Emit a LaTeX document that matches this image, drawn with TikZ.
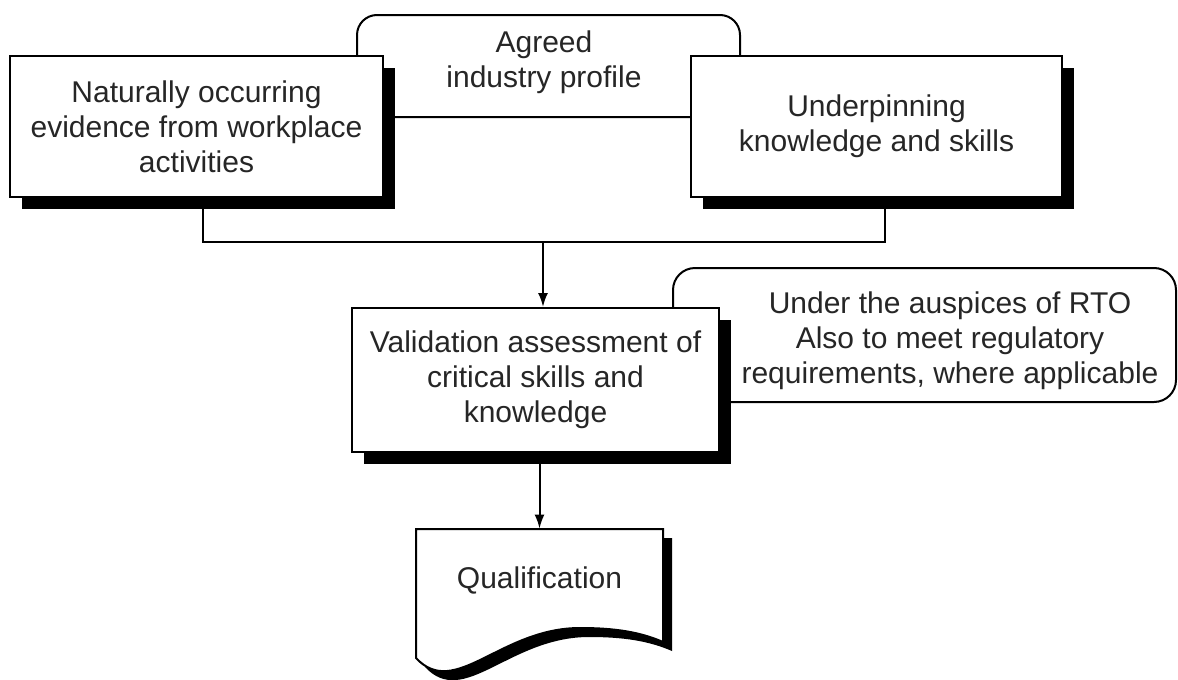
\documentclass[tikz,border=0pt]{standalone}
\usepackage{fontspec}
\setmainfont{Liberation Sans}
\usetikzlibrary{arrows.meta,shadows}

\tikzset{
  txt/.style={font=\fontsize{15}{17.5}\selectfont, align=center, text=black!85},
  box/.style={txt, draw, fill=white, line width=1pt,
    drop shadow={shadow xshift=6pt, shadow yshift=-6pt, fill=black, opacity=1}},
  frame/.style={draw, fill=white, line width=1pt, rounded corners=10pt},
  flow/.style={line width=1pt, -{Latex[length=7pt,width=5pt]}}
}

\begin{document}
\begin{tikzpicture}[x=0.5pt,y=-0.5pt]
        \useasboundingbox (0,0) rectangle (1178,680);

        % top profile frame, behind the two boxes
        \draw[frame] (357,117) rectangle (740,15);
        \node[txt] (profile) at (544,62) {Agreed\\industry profile};

        \node[box, minimum width=186.5pt, minimum height=70.5pt] (evid) at (196.5,126.5)
            {Naturally occurring\\evidence from workplace\\activities};
        \node[box, minimum width=185.5pt, minimum height=70.5pt] (know) at (876.5,126.5)
            {Underpinning\\knowledge and skills};

        \coordinate (merge) at (543,242);
        \draw[line width=1pt] ([xshift=3pt]evid.south) |- (merge) -| ([xshift=4pt]know.south);

        % RTO note, behind validation box
        \draw[frame, rounded corners=11pt] (673,402) rectangle (1176,268);
        \node[txt] (rto) at (950,341)
            {Under the auspices of RTO\\Also to meet regulatory\\requirements, where applicable};

        \node[box, minimum width=183.5pt, minimum height=72pt] (valid) at (535.5,380)
            {Validation assessment of\\critical skills and\\knowledge};
        \draw[flow] (merge) -- (merge |- valid.north);

        % qualification document
        \fill[shift={(9,9)}] (416,529) -- (663,529) -- (663,642)
            .. controls (640,632) and (615,628) .. (580,628)
            .. controls (500,628) and (455,700) .. (416,658) -- cycle;
        \draw[fill=white, line width=1pt] (416,529) -- (663,529) -- (663,642)
            .. controls (640,632) and (615,628) .. (580,628)
            .. controls (500,628) and (455,700) .. (416,658) -- cycle;
        \node[txt, minimum width=123.5pt, minimum height=51pt] (qual) at (539.5,580) {Qualification};
        \draw[flow] (valid.south -| qual.north) -- (qual.north);
    \end{tikzpicture}
\end{document}
